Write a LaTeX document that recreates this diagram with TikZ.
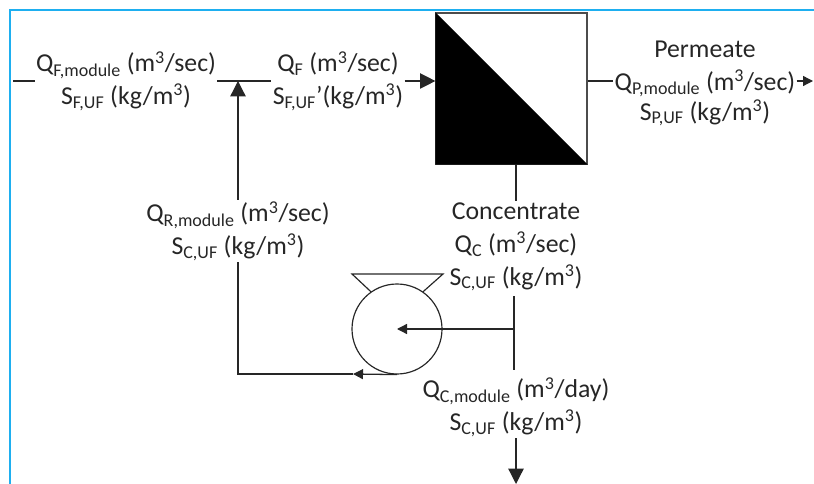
\documentclass[tikz,border=0pt]{standalone}
\usepackage{fontspec}
\setmainfont{Carlito}
\usetikzlibrary{arrows.meta}
\definecolor{framecyan}{RGB}{30,175,240}
\newcommand{\rate}[2]{Q\textsubscript{#1} (m\textsuperscript{3}/#2)}
\newcommand{\salt}[1]{S\textsubscript{#1} (kg/m\textsuperscript{3})}
\tikzset{
    lbl/.style={align=center, inner sep=1pt, text=black!85, font=\fontsize{22}{28}\selectfont},
    pipe/.style={line width=1.1pt, black!85},
    bigtip/.style={-{Stealth[inset=0pt, length=4.6mm, width=4.6mm]}},
    smalltip/.style={-{Stealth[inset=0pt, length=3mm, width=3mm]}}
}
\begin{document}
\begin{tikzpicture}[x=0.03cm, y=-0.03cm]
    \useasboundingbox (0,0) rectangle (814,484);

    % Marco
    \draw[line width=1.8pt, framecyan] (10,484) -- (10,10) -- (814,10);

    % Membrana
    \node[draw=black!70, line width=1pt, minimum size=4.53cm, inner sep=0pt] (membrane) at (511.5,88.5) {};
    \fill[black] (membrane.north west) -- (membrane.south east) -- (membrane.south west) -- cycle;

    % Bomba
    \node[draw=black!85, line width=1pt, circle, minimum size=2.7cm, inner sep=0pt] (pump) at (397,329) {};
    \draw[line width=1pt, black!85] (pump.125) -- (352,274) -- (443,274) -- (pump.55);

    % Textos
    \node[lbl] (feedmod) at (126,81) {\rate{F,module}{sec}\\\salt{F,UF}};
    \node[lbl] (feedin) at (338,81) {\rate{F}{sec}\\S\textsubscript{F,UF}’(kg/m\textsuperscript{3})};
    \node[lbl] (recycle) at (238,231) {\rate{R,module}{sec}\\\salt{C,UF}};
    \node[lbl] (concentrate) at (516,247) {Concentrate\\\rate{C}{sec}\\\salt{C,UF}};
    \node[lbl] (bleed) at (516,407) {\rate{C,module}{day}\\\salt{C,UF}};
    \node[lbl] (permeatehead) at (705,49) {Permeate};
    \node[lbl] (permeateflow) at (705,83) {\rate{P,module}{sec}};
    \node[lbl] (permeatesalt) at (705,113) {\salt{P,UF}};

    \coordinate (feedstart) at (13,81);
    \coordinate (junction) at (238,81);
    \coordinate (corner) at (238,374);
    \coordinate (tee) at (514,329);
    \coordinate (permeateend) at (813,81);
    \coordinate (bleedend) at (516,484);

    % Entrada
    \draw[pipe] (feedstart) -- (feedmod.west |- feedstart);
    \draw[pipe] (feedmod.east |- junction) -- (feedin.west |- junction);
    \draw[pipe, bigtip] (feedin.east |- junction) -- (membrane.west |- junction);

    % Permeado
    \draw[pipe] (membrane.east |- junction) -- (permeateflow.west |- junction);
    \draw[pipe, smalltip] (permeateflow.east |- junction) -- (permeateend);

    % Concentrado
    \draw[pipe] (membrane.south -| concentrate) -- (concentrate.north);
    \draw[pipe] (514,296) -- (514,370);
    \draw[pipe, smalltip] (tee) -- (pump.center);
    \draw[pipe, bigtip] (bleed.south) -- (bleedend);

    % Recirculacion
    \draw[pipe, smalltip] (pump.south) -- (353,374);
    \draw[pipe] (353,374) -- (corner) -- (recycle.south -| corner);
    \draw[pipe, bigtip] (recycle.north -| corner) -- (junction);
\end{tikzpicture}
\end{document}
